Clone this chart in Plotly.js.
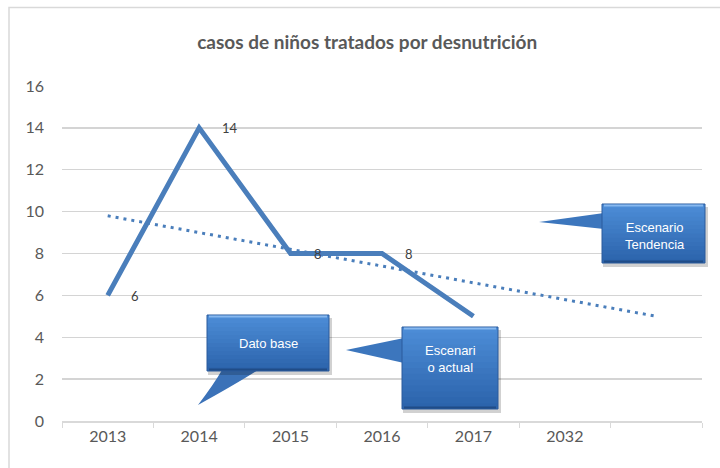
<!DOCTYPE html>
<html>
<head>
<meta charset="utf-8">
<script src="https://cdn.plot.ly/plotly-3.0.1.min.js"></script>
<style>html,body{margin:0;padding:0;background:#fff;}#chart{width:720px;height:468px;}</style>
</head>
<body>
<div id="chart"></div>
<script>
// ---- data ----
var categories = ['2013', '2014', '2015', '2016', '2017', '2032', ' '];
var casosYears = ['2013', '2014', '2015', '2016', '2017'];
var casos = [6, 14, 8, 8, 5];
var tendencia = [9.8, 9.0, 8.2, 7.4, 6.6, 5.8, 5.0];
var labelYears = ['2013', '2014', '2015', '2016'];
var labelValues = [6, 14, 8, 8];
var yTicks = [0, 2, 4, 6, 8, 10, 12, 14, 16];
var calloutTexts = ['Dato base', 'Escenari<br>o actual', 'Escenario<br>Tendencia'];

// ---- layout helpers (pixel -> paper) ----
var W = 720, H = 468, L = 62, R = 18, T = 86, B = 47;
var PW = W - L - R, PH = H - T - B;
function px(x) { return (x - L) / PW; }
function py(y) { return (H - B - y) / PH; }
function path(pts) {
  return pts.map(function (p, i) {
    return (i === 0 ? 'M' : (p[2] === 'Q' ? 'Q' : 'L')) + px(p[0]).toFixed(4) + ',' + py(p[1]).toFixed(4) +
      (p[2] === 'Q' ? ' ' + px(p[3]).toFixed(4) + ',' + py(p[4]).toFixed(4) : '');
  }).join(' ') + ' Z';
}
var shapes = [];
// chart border (only top/left visible)
shapes.push({type: 'rect', xref: 'paper', yref: 'paper', x0: px(9), x1: px(740), y0: py(7.5), y1: py(490),
  line: {color: '#d9d9d9', width: 1.5}, fillcolor: 'rgba(0,0,0,0)', layer: 'below'});

function box(x0, y0, x1, y1) {
  // shadow
  shapes.push({type: 'rect', xref: 'paper', yref: 'paper', x0: px(x0 + 1), x1: px(x1 + 3), y0: py(y0 + 3), y1: py(y1 + 4),
    line: {width: 0}, fillcolor: 'rgba(0,0,0,0.18)'});
  var n = 14, top = [76, 140, 214], bot = [44, 100, 172];
  for (var i = 0; i < n; i++) {
    var t = i / (n - 1);
    var c = 'rgb(' + top.map(function (v, k) { return Math.round(v + (bot[k] - v) * t); }).join(',') + ')';
    var ya = y0 + (y1 - y0) * i / n;
    shapes.push({type: 'rect', xref: 'paper', yref: 'paper', x0: px(x0), x1: px(x1),
      y0: py(ya), y1: py(y1), line: {width: 0}, fillcolor: c});
  }
  // bevel edges
  shapes.push({type: 'rect', xref: 'paper', yref: 'paper', x0: px(x0), x1: px(x1), y0: py(y0), y1: py(y1),
    line: {color: '#2a5b9c', width: 1}, fillcolor: 'rgba(0,0,0,0)'});
  shapes.push({type: 'line', xref: 'paper', yref: 'paper', x0: px(x0 + 2), x1: px(x1 - 2), y0: py(y0 + 1.5), y1: py(y0 + 1.5),
    line: {color: 'rgba(150,195,245,0.8)', width: 2}});
  shapes.push({type: 'line', xref: 'paper', yref: 'paper', x0: px(x0 + 2), x1: px(x1 - 2), y0: py(y1 - 1.5), y1: py(y1 - 1.5),
    line: {color: 'rgba(25,60,110,0.6)', width: 2}});
}
function tail(pts, col) {
  shapes.push({type: 'path', xref: 'paper', yref: 'paper', path: path(pts), line: {width: 0}, fillcolor: col});
}
// Dato base
tail([[222, 370], [214, 384, 'Q', 198, 405], [236, 384, 'Q', 258, 370]], '#3b72b8');
box(207, 315, 329, 371);
// Escenario actual
tail([[404, 338], [346, 350], [404, 363]], '#3c76bd');
box(402, 327, 498, 409);
// Escenario Tendencia
tail([[604, 213], [539, 222], [604, 229]], '#3c76bd');
box(602, 204, 705, 263);

var annotations = [];
labelYears.forEach(function (yr, i) {
  annotations.push({x: categories.indexOf(yr), y: labelValues[i], xref: 'x', yref: 'y', text: String(labelValues[i]),
    showarrow: false, xanchor: 'left', xshift: 21, yshift: i === 0 ? -1 : 0,
    font: {family: 'Lato, sans-serif', size: 13, color: '#404040'}});
});
var calloutPos = [[268, 343], [450, 359], [655, 236]];
calloutTexts.forEach(function (t, i) {
  annotations.push({xref: 'paper', yref: 'paper', x: px(calloutPos[i][0]), y: py(calloutPos[i][1]), text: t,
    showarrow: false, xanchor: 'center', yanchor: 'middle',
    font: {family: 'Liberation Sans, Arial, sans-serif', size: 13, color: '#ffffff'}});
});

var traces = [
  {x: casosYears, y: casos, type: 'scatter', mode: 'lines', name: 'casos',
    line: {color: '#4a7ebb', width: 5}, hoverinfo: 'skip'},
  {x: categories, y: tendencia, type: 'scatter', mode: 'lines', name: 'tendencia',
    line: {color: '#4a7ebb', width: 3, dash: '3px,5px'}, hoverinfo: 'skip'}
];

var layout = {
  width: W, height: H,
  margin: {l: L, r: R, t: T, b: B},
  paper_bgcolor: '#ffffff', plot_bgcolor: '#ffffff',
  showlegend: false,
  title: {text: '<b>casos de niños tratados por desnutrición</b>', x: 0.51, xanchor: 'center', y: 1 - 42 / H, yanchor: 'middle',
    font: {family: 'Lato, sans-serif', size: 19, color: '#595959'}},
  xaxis: {type: 'category', categoryorder: 'array', categoryarray: categories, range: [-0.5, 6.5],
    tickson: 'boundaries', ticks: 'outside', ticklen: 5, tickcolor: '#d9d9d9', tickwidth: 1,
    showline: true, linecolor: '#d9d9d9', linewidth: 1.5, showgrid: false, zeroline: false,
    tickfont: {family: 'Lato, sans-serif', size: 16, color: '#595959'}, fixedrange: true},
  yaxis: {range: [0, 16], tickvals: yTicks, ticktext: yTicks.map(String), showgrid: true, gridcolor: '#d4d4d4', gridwidth: 1.3,
    zeroline: false, showline: false, ticks: '', ticklabelstandoff: 17,
    tickfont: {family: 'Lato, sans-serif', size: 16, color: '#595959'}, fixedrange: true},
  shapes: shapes,
  annotations: annotations
};
Plotly.newPlot('chart', traces, layout, {staticPlot: true, displayModeBar: false});
</script>
</body>
</html>
